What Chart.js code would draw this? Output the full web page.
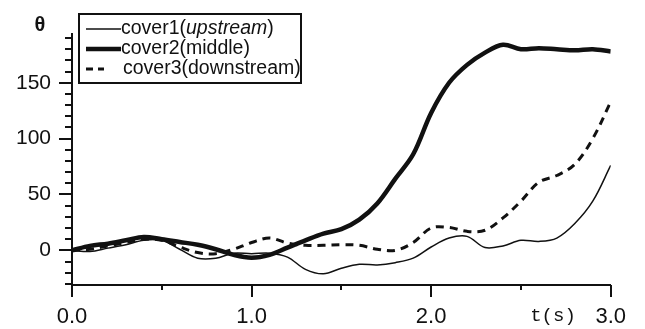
<!DOCTYPE html>
<html>
<head>
<meta charset="utf-8">
<script src="https://cdn.jsdelivr.net/npm/chart.js@4/dist/chart.umd.min.js"></script>
<style>
  html, body { margin: 0; padding: 0; background: #fff; }
  #wrap { width: 645px; height: 329px; }
</style>
</head>
<body>
<div id="wrap"><canvas id="c" width="645" height="329"></canvas></div>
<script>
// time axis (s)
const times = [0.0, 0.1, 0.2, 0.3, 0.4, 0.5, 0.6, 0.7, 0.8, 0.9,
               1.0, 1.1, 1.2, 1.3, 1.4, 1.5, 1.6, 1.7, 1.8, 1.9,
               2.0, 2.1, 2.2, 2.3, 2.4, 2.5, 2.6, 2.7, 2.8, 2.9, 3.0];

// θ for each cover
const cover1 = [0, -1, 2, 5, 9, 9, 1, -7, -7, -2.5,
                -3, -2.5, -6, -17, -21, -16, -12.5, -13, -11, -7,
                3, 11, 12.5, 2.5, 4, 9, 8, 11, 24, 44, 76];
const cover2 = [0, 4, 6, 9, 12, 10, 7.5, 5, 1, -4,
                -6.5, -4, 2.5, 9, 15, 19, 27.5, 42, 64, 86,
                123, 150, 166, 177, 184, 180, 181, 180, 179, 180, 178];
const cover3 = [0, 1, 4, 7, 10, 9, 3, -2, -3, 1,
                7, 11, 6.5, 4.5, 4.5, 5, 4.5, 1, 0, 7,
                20, 20.5, 17, 18, 29, 44, 61, 67, 77, 100, 133];

const seriesNames = ["cover1", "cover2", "cover3"];
const seriesNotes = ["upstream", "middle", "downstream"];

const xTicks = [0, 0.5, 1, 1.5, 2, 2.5, 3];
const yTicks = [-30, -20, -10, 0, 10, 20, 30, 40, 50, 60, 70, 80, 90, 100,
                110, 120, 130, 140, 150, 160, 170, 180, 190];

const INK = "#111";
const SANS = "'Liberation Sans', Arial, sans-serif";
const pts = arr => arr.map((v, i) => ({ x: times[i], y: v }));

// tick marks, θ / t(s) labels and the boxed legend
const decor = {
  id: "decor",
  afterDraw(chart) {
    const ctx = chart.ctx, xs = chart.scales.x, ys = chart.scales.y;
    const a = chart.chartArea;
    ctx.save();
    ctx.strokeStyle = INK;
    ctx.lineWidth = 2;
    ctx.beginPath();
    yTicks.forEach(v => {
      const py = Math.round(ys.getPixelForValue(v));
      const len = v % 50 === 0 ? 13 : 7;
      ctx.moveTo(a.left - len, py); ctx.lineTo(a.left, py);
    });
    xTicks.forEach(v => {
      const px = Math.round(xs.getPixelForValue(v));
      const len = Number.isInteger(v) ? 12 : 5;
      ctx.moveTo(px, a.bottom); ctx.lineTo(px, a.bottom + len);
    });
    ctx.stroke();

    ctx.fillStyle = INK;
    ctx.textBaseline = "middle";
    ctx.textAlign = "center";
    ctx.font = "bold 20px " + SANS;
    ctx.fillText("θ", 40, 25);
    ctx.font = "19px 'Liberation Mono', 'Courier New', monospace";
    ctx.fillText("t(s)", 553, 316);

    // legend
    const bx = 79, by = 14, bw = 222, bh = 69;
    ctx.lineWidth = 2;
    ctx.strokeRect(bx, by, bw, bh);
    const rows = [29, 49, 69];
    ctx.textAlign = "left";
    rows.forEach((ry, i) => {
      ctx.beginPath();
      ctx.setLineDash(i === 2 ? [7, 5] : []);
      ctx.lineWidth = i === 0 ? 1.5 : i === 1 ? 4.5 : 3;
      ctx.moveTo(86, ry); ctx.lineTo(i === 2 ? 104 : 121, ry);
      ctx.stroke();
      ctx.setLineDash([]);
      let tx = i === 2 ? 123 : 121;
      ctx.font = "19.5px " + SANS;
      const head = seriesNames[i] + "(";
      ctx.fillText(head, tx, ry);
      tx += ctx.measureText(head).width;
      if (i === 0) ctx.font = "italic 19.5px " + SANS;
      ctx.fillText(seriesNotes[i], tx, ry);
      tx += ctx.measureText(seriesNotes[i]).width;
      ctx.font = "19.5px " + SANS;
      ctx.fillText(")", tx, ry);
    });
    ctx.restore();
  }
};

new Chart(document.getElementById("c"), {
  type: "line",
  data: {
    datasets: [
      { label: "cover1(upstream)", data: pts(cover1), borderColor: INK, borderWidth: 1.5 },
      { label: "cover2(middle)", data: pts(cover2), borderColor: INK, borderWidth: 4.5 },
      { label: "cover3(downstream)", data: pts(cover3), borderColor: INK, borderWidth: 3, borderDash: [8, 6] },
    ],
  },
  options: {
    responsive: false,
    animation: false,
    events: [],
    layout: { padding: { top: 15, right: 32, left: 0, bottom: 0 } },
    elements: { point: { radius: 0 }, line: { tension: 0.35, fill: false } },
    plugins: { legend: { display: false }, tooltip: { enabled: false } },
    scales: {
      x: {
        type: "linear", min: 0, max: 3,
        afterBuildTicks: s => { s.ticks = xTicks.map(v => ({ value: v })); },
        afterFit: s => { s.height = 44; },
        grid: { display: false, drawTicks: false },
        border: { display: true, color: INK, width: 2 },
        ticks: {
          autoSkip: false, padding: 19, color: INK,
          font: { family: SANS, size: 22 },
          callback: v => Number.isInteger(v) ? v.toFixed(1) : "",
        },
      },
      y: {
        min: -31, max: 194,
        afterBuildTicks: s => { s.ticks = yTicks.map(v => ({ value: v })); },
        afterFit: s => { s.width = 72; },
        grid: { display: false, drawTicks: false },
        border: { display: true, color: INK, width: 2 },
        ticks: {
          autoSkip: false, padding: 21, color: INK,
          font: { family: SANS, size: 21 },
          callback: v => (v >= 0 && v % 50 === 0) ? String(v) : "",
        },
      },
    },
  },
  plugins: [decor],
});
</script>
</body>
</html>
